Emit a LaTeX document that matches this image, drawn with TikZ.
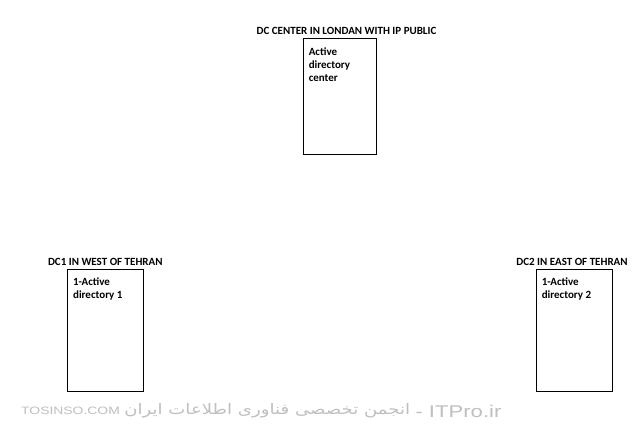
\documentclass[tikz,border=0pt]{standalone}
\usepackage{fontspec}
\setmainfont{Carlito}
\newfontfamily\wmfont[FakeStretch=1.3]{Liberation Sans}
\newfontfamily\arabicfont[Script=Arabic, FakeStretch=1.25]{DejaVu Sans}
\TeXXeTstate=1
\usetikzlibrary{positioning}

\begin{document}
\begin{tikzpicture}[
		x=1pt, y=-1pt,
		font=\fontsize{11}{13.3}\selectfont\bfseries,
		dcbox/.style={
				draw,
				line width=0.8pt,
				minimum width=#1,
				minimum height=122,
				inner sep=0
			},
		dcbox/.default=76,
		dctitle/.style={anchor=south, inner sep=3pt},
		dctext/.style={anchor=north west, align=left, inner sep=0},
		watermark/.style={text=gray!50, inner sep=0, font=\wmfont\mdseries#1},
		watermark/.default=\fontsize{10.7}{12}\selectfont
	]

	\path[use as bounding box, fill=white] (0,0) rectangle (639,433);

	% main site
	\node[dcbox=73, minimum height=116] (center) at (339.5,96) {};
	\node[dctitle] (centertitle) at ([xshift=7pt]center.north) {DC CENTER IN LONDAN WITH IP PUBLIC};
	\node[dctext] (centertext) at ([xshift=6pt, yshift=-9.5pt]center.north west) {Active\\directory\\center};

	% branch sites
	\node[dcbox] (west) at (105.3,330.5) {};
	\node[dctitle] (westtitle) at (west.north) {DC1 IN WEST OF TEHRAN};
	\node[dctext] (westtext) at ([xshift=6pt, yshift=-8.5pt]west.north west) {1-Active\\directory 1};

	\node[dcbox] (east) at (574,330.5) {};
	\node[dctitle] (easttitle) at ([xshift=-2pt]east.north) {DC2 IN EAST OF TEHRAN};
	\node[dctext] (easttext) at ([xshift=6pt, yshift=-8.5pt]east.north west) {1-Active\\directory 2};

	% footer
	\node[watermark, anchor=west] (tosinso) at (21,411) {TOSINSO.COM};
	\node[watermark=\fontsize{14.5}{16}\selectfont, right=4pt of tosinso] (persian) {\arabicfont\beginR انجمن تخصصی فناوری اطلاعات ایران\endR};
	\node[watermark=\fontsize{17}{20}\selectfont, right=5pt of persian] (itpro) {- ITPro.ir};
\end{tikzpicture}
\end{document}
